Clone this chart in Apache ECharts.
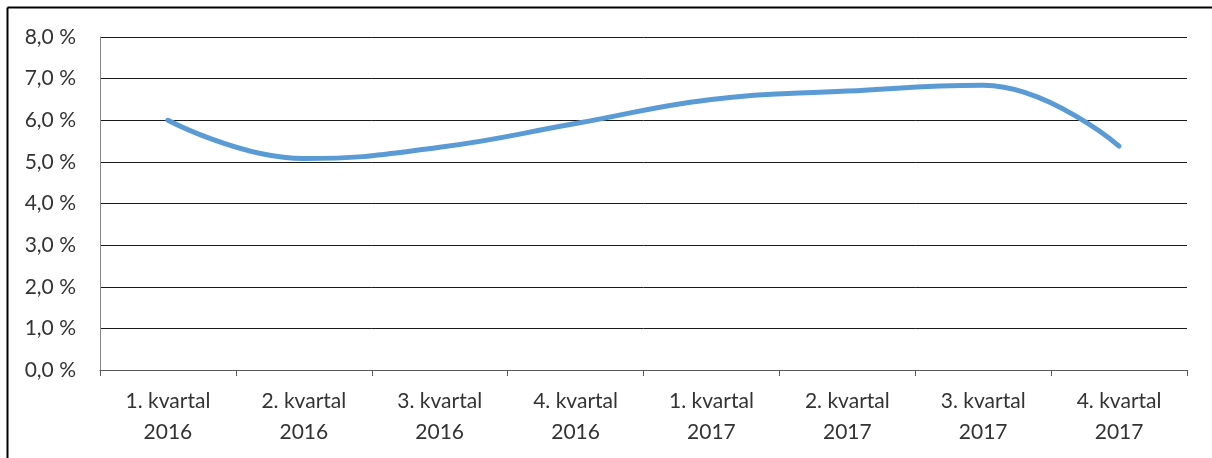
<!DOCTYPE html>
<html>
<head>
<meta charset="utf-8">
<script src="https://cdn.jsdelivr.net/npm/echarts@6/dist/echarts.min.js"></script>
<style>
  html, body { margin: 0; padding: 0; background: #fff; }
  #chart { width: 1212px; height: 458px; }
</style>
</head>
<body>
<div id="chart"></div>
<script>
// Quarterly rate, 2016–2017 (percent)
const categories = [
  '1. kvartal\n2016', '2. kvartal\n2016', '3. kvartal\n2016', '4. kvartal\n2016',
  '1. kvartal\n2017', '2. kvartal\n2017', '3. kvartal\n2017', '4. kvartal\n2017'
];
const rateValues = [6.0, 5.08, 5.35, 5.92, 6.5, 6.7, 6.84, 5.38];
const yTicks = { min: 0, max: 8, step: 1 };

const FONT = 'Lato, "Open Sans", sans-serif';
const chart = echarts.init(document.getElementById('chart'), null, { renderer: 'canvas' });

chart.setOption({
  animation: false,
  backgroundColor: '#ffffff',
  grid: { left: 100, right: 25, top: 37, bottom: 88, containLabel: false },
  xAxis: {
    type: 'category',
    data: categories,
    boundaryGap: true,
    axisLine: { show: true, lineStyle: { color: '#595959', width: 1 } },
    axisTick: { show: true, length: 6, alignWithLabel: false, lineStyle: { color: '#595959' } },
    axisLabel: {
      color: '#333333', fontFamily: FONT, fontSize: 21, lineHeight: 31, margin: 16,
      interval: 0
    },
    splitLine: { show: false }
  },
  yAxis: {
    type: 'value',
    min: yTicks.min, max: yTicks.max, interval: yTicks.step,
    axisLine: { show: true, lineStyle: { color: '#868686', width: 1 } },
    axisTick: { show: false },
    axisLabel: {
      color: '#333333', fontFamily: FONT, fontSize: 21, margin: 24,
      formatter: v => v.toFixed(1).replace('.', ',') + ' %'
    },
    splitLine: { show: true, lineStyle: { color: '#1a1a1a', width: 1 } }
  },
  series: [{
    type: 'line',
    data: rateValues,
    smooth: 0.45,
    symbol: 'none',
    lineStyle: { color: '#5B9BD5', width: 5, cap: 'round', join: 'round' }
  }],
  graphic: [
    { type: 'line', shape: { x1: 7.5, y1: 7.5, x2: 1212, y2: 7.5 }, style: { stroke: '#000', lineWidth: 2 } },
    { type: 'line', shape: { x1: 7.5, y1: 7.5, x2: 7.5, y2: 458 }, style: { stroke: '#000', lineWidth: 2 } }
  ]
});
</script>
</body>
</html>
